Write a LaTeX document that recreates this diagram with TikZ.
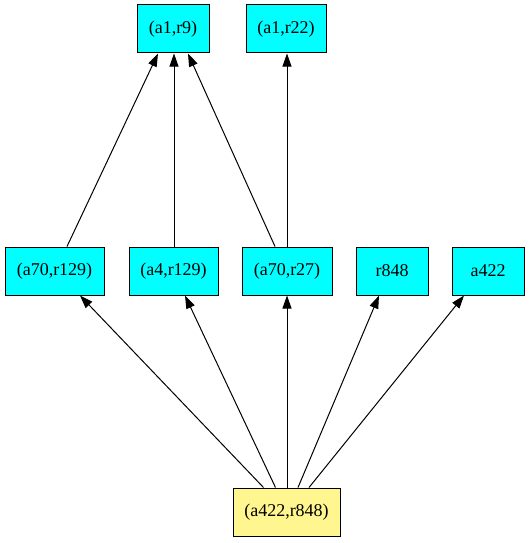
\documentclass[tikz,border=0pt]{standalone}
\usepackage{fontspec}
\setmainfont{Liberation Serif}
\usetikzlibrary{arrows.meta,calc}
\definecolor{boxcyan}{RGB}{0,255,255}
\definecolor{boxkhaki}{RGB}{255,246,143}
\begin{document}
\begin{tikzpicture}[x=1pt,y=-1pt,
  box/.style={draw=black,line width=1pt,fill=boxcyan,minimum height=48pt,inner sep=0pt,font=\fontsize{18pt}{20pt}\selectfont},
  rootbox/.style={box,fill=boxkhaki},
  edge/.style={line width=1pt,-{Triangle[length=13pt,width=9pt]}}]
\useasboundingbox (0,0) rectangle (529,543);
% top row
\node[box,minimum width=72pt] (a1r9) at (173,29) {(a1,r9)};
\node[box,minimum width=80pt] (a1r22) at (286,29) {(a1,r22)};
% middle row
\node[box,minimum width=99pt] (a70r129) at (54.5,271) {(a70,r129)};
\node[box,minimum width=89pt] (a4r129) at (173.5,271) {(a4,r129)};
\node[box,minimum width=90pt] (a70r27) at (287,271) {(a70,r27)};
\node[box,minimum width=72pt] (r848) at (392,271) {r848};
\node[box,minimum width=72pt] (a422) at (488,271) {a422};
% root
\node[rootbox,minimum width=107pt] (root) at (286.5,512) {(a422,r848)};
% edges into the top row
\draw[edge] ($(a70r129.north)+(12.5,0)$) -- ($(a1r9.south)+(-15,0)$);
\draw[edge] ($(a4r129.north)+(0.5,0)$) -- ($(a1r9.south)+(1,0)$);
\draw[edge] ($(a70r27.north)+(-12,0)$) -- ($(a1r9.south)+(15,0)$);
\draw[edge] ($(a70r27.north)+(0,0)$) -- ($(a1r22.south)+(1,0)$);
% edges from the root
\draw[edge] ($(root.north)+(-23,0)$) -- ($(a70r129.south)+(25.5,0)$);
\draw[edge] ($(root.north)+(-11,0)$) -- ($(a4r129.south)+(11.5,0)$);
\draw[edge] ($(root.north)+(0.5,0)$) -- ($(a70r27.south)+(0,0)$);
\draw[edge] ($(root.north)+(11.5,0)$) -- ($(r848.south)+(-13,0)$);
\draw[edge] ($(root.north)+(22.5,0)$) -- ($(a422.south)+(-24,0)$);
\end{tikzpicture}
\end{document}
